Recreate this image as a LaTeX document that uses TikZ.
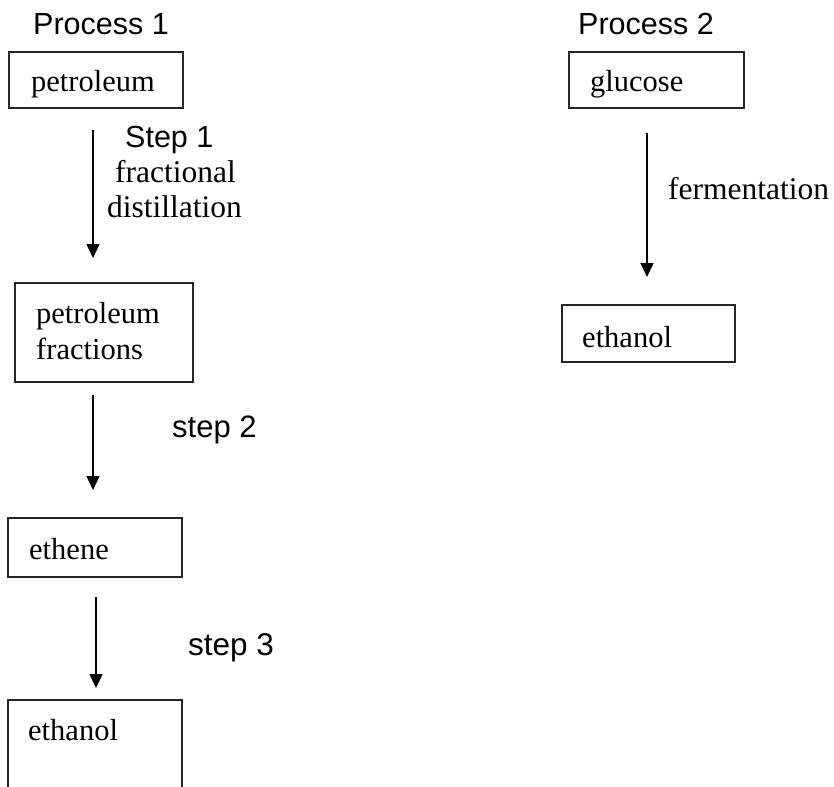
\documentclass[tikz,border=0pt]{standalone}
\usepackage{fontspec}
\setmainfont{Liberation Serif}
\setsansfont{Liberation Sans}
\usetikzlibrary{arrows.meta}
\begin{document}
\begin{tikzpicture}[x=1pt,y=-1pt,
  box/.style={draw=black!85,line width=1.1pt},
  boxtext/.style={anchor=base west,inner sep=0pt,font=\fontsize{30.5}{36}\selectfont},
  lbl/.style={anchor=base west,inner sep=0pt,font=\fontsize{31.5}{38}\selectfont},
  sans/.style={anchor=base west,inner sep=0pt,font=\sffamily\fontsize{30.5}{36}\selectfont},
  flow/.style={line width=1.4pt,-{Triangle[width=13pt,length=14pt]}}]
\useasboundingbox (0,0) rectangle (834,786);
\clip (0,0) rectangle (834,786);
% Process 1
\node[sans] (p1) at (33,35) {Process 1};
\draw[box] (9,52) rectangle (183,108);
\node[boxtext] (pet) at (31,92) {petroleum};
\node[sans] (s1) at (125,148) {Step 1};
\node[lbl] (fr1) at (115,183) {fractional};
\node[lbl] (fr2) at (107,218) {distillation};
\draw[box] (15,283) rectangle (193,382);
\node[boxtext] (pf1) at (36,323) {petroleum};
\node[boxtext] (pf2) at (36,359) {fractions};
\node[sans,font=\sffamily\fontsize{31}{36}\selectfont] (s2) at (172,437) {step 2};
\draw[box] (8,518) rectangle (182,577);
\node[boxtext] (ethe) at (29,559) {ethene};
\node[sans,font=\sffamily\fontsize{31.5}{36}\selectfont] (s3) at (188,655) {step 3};
\draw[box] (8,700) rectangle (182,830);
\node[boxtext] (eth1) at (28,740) {ethanol};
\coordinate (a1s) at (93,130); \coordinate (a1e) at (93,258);
\coordinate (a2s) at (93,395); \coordinate (a2e) at (93,490);
\coordinate (a3s) at (96,597); \coordinate (a3e) at (96,688);
\draw[flow] (a1s) -- (a1e);
\draw[flow] (a2s) -- (a2e);
\draw[flow] (a3s) -- (a3e);
% Process 2
\node[sans] (p2) at (578,35) {Process 2};
\draw[box] (569,52) rectangle (744,108);
\node[boxtext] (glu) at (590,92) {glucose};
\node[lbl] (ferm) at (668,200) {fermentation};
\draw[box] (562,305) rectangle (735,362);
\node[boxtext] (eth2) at (582,347) {ethanol};
\coordinate (a4s) at (647,133); \coordinate (a4e) at (647,277);
\draw[flow] (a4s) -- (a4e);
\end{tikzpicture}
\end{document}
